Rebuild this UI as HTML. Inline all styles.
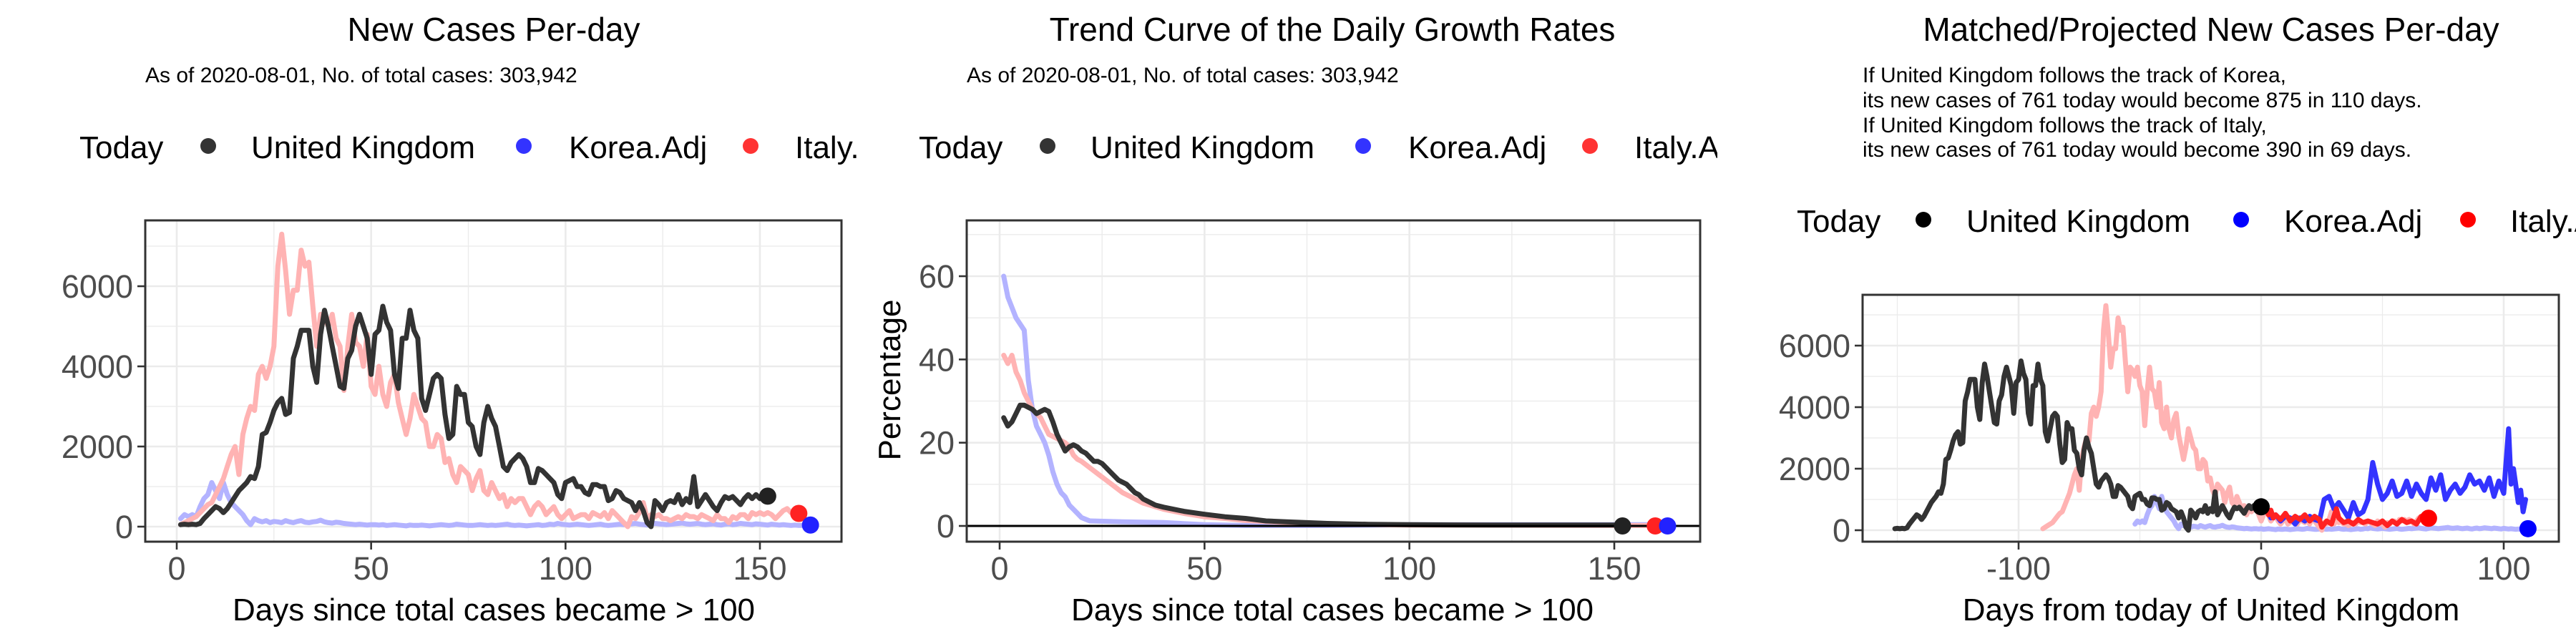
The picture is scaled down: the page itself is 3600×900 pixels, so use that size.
<!DOCTYPE html>
<html><head><meta charset="utf-8"><title>COVID-19 charts: United Kingdom vs Korea and Italy</title>
<style>
html,body{margin:0;padding:0;background:#fff;}
svg{display:block;font-family:"Liberation Sans",Arial,sans-serif;}
</style></head>
<body>
<svg id="chart" width="3600" height="900" viewBox="0 0 3600 900" xmlns="http://www.w3.org/2000/svg">
<defs>
<clipPath id="cp1"><rect x="0" y="0" width="1200" height="900"/></clipPath>
<clipPath id="cp2"><rect x="1200" y="0" width="1200" height="900"/></clipPath>
<clipPath id="cp3"><rect x="2400" y="0" width="1200" height="900"/></clipPath>
<clipPath id="pa1"><rect x="203" y="308" width="973" height="449"/></clipPath>
<clipPath id="pa2"><rect x="1351" y="308" width="1025" height="449"/></clipPath>
<clipPath id="pa3"><rect x="2603" y="412" width="973" height="345"/></clipPath>
</defs>
<rect x="0" y="0" width="3600" height="900" fill="#fff"/>
</svg>
<script>
// ---------- data ----------
const ukCases = [50,60,50,60,50,80,200,300,400,500,450,350,450,600,750,900,1000,1100,1250,1200,
1500,2300,2350,2600,2900,3100,3200,2800,2850,4200,4500,4900,4900,4900,4000,3600,4800,5400,5000,4500,
4000,3500,3450,4200,4400,5000,5300,5000,4700,3800,4800,4900,5500,5100,4900,3800,3450,4700,4700,5400,
4900,4700,3200,2900,3300,3700,3800,3700,2800,2200,2300,3500,3300,3300,2600,2500,2000,1800,2600,3000,
2700,2500,2000,1500,1400,1600,1700,1800,1700,1500,1100,1100,1450,1400,1300,1200,1100,800,700,1100,
1150,1200,1000,1000,850,800,1050,1050,1000,1000,650,700,900,850,700,650,600,400,600,400,
100,0,650,550,400,600,650,600,800,550,700,600,1250,500,650,800,650,500,400,600,
750,700,750,650,550,700,800,700,800,700,761];
const italyCases = [50,100,150,200,250,350,450,550,600,800,1000,1200,1500,1800,2000,1300,2300,2700,3000,2900,
3800,4000,3700,4000,4500,6500,7300,6400,5300,5900,5900,6900,6500,6600,5500,4500,5300,5200,5000,5300,
4700,4500,3400,4500,5300,4600,4500,4000,4800,3500,3300,4000,3300,3000,3600,3800,3100,2700,2300,2700,
3300,3000,2700,2600,2000,2000,2300,2200,1600,1700,1300,1100,1500,1400,1300,900,1200,1400,900,800,
1100,900,700,800,500,700,600,700,700,500,300,500,600,500,300,400,500,300,200,300,
400,200,250,300,300,200,350,300,250,350,200,400,300,200,100,0,250,200,350,600,
200,300,250,300,200,200,150,200,250,200,300,250,250,200,300,250,200,150,300,200,
200,100,250,200,300,300,200,350,300,350,300,350,300,200,300,400,450,350,330,330];
const koreaCases = [200,300,250,300,250,500,700,800,1100,900,700,1100,800,600,500,400,300,150,50,200,
150,120,150,100,130,120,100,150,120,100,130,150,110,100,120,130,160,120,100,90,
110,100,80,70,60,50,60,50,40,50,50,40,50,30,40,50,40,30,20,40,
30,30,40,30,20,30,40,50,40,30,40,60,50,40,30,30,40,50,40,30,
40,30,40,50,60,40,30,40,30,20,30,40,50,30,40,60,50,80,60,50,
40,50,60,50,40,30,40,50,60,40,30,40,50,60,50,60,70,80,60,50,
40,60,80,70,60,50,60,70,80,90,70,60,70,80,60,50,60,70,50,40,
60,70,50,60,80,70,60,50,70,60,50,40,60,50,40,50,40,30,40,30,30,20,10];

const ukGrowthDays = [1,2,3,4,5,6,7,8,9,10,11,12,13,14,15,16,17,18,19,20,21,22,23,24,25,26,27,28,29,30,31,32,33,34,35,36,37,38,40,45,50,55,60,65,70,80,90,100,120,152];
const ukGrowth = [26,24,25,27,29,29,28.5,28,27,27.5,28,27.5,25,22,20,18,19,19.5,19,18,17.5,16.5,15.5,15.5,15,14,13,12,11,10.5,10,9,8,7.5,6.5,6,5.5,5,4.5,3.5,2.8,2.2,1.8,1.2,1,0.6,0.4,0.3,0.2,0.2];
const koreaGrowthDays = [1,2,4,6,7,8,9,10,11,12,13,14,15,16,17,18,19,20,22,30,40,50,60,80,100,163];
const koreaGrowth = [60,55,50,47,35,28,24,22,20,17,13,10,8,7,5,4,3,2,1.2,1.0,0.8,0.3,0.1,0.1,0.3,0.3];
const italyGrowthDays = [1,2,3,4,5,6,7,8,9,10,11,12,13,14,15,16,17,18,19,20,22,24,26,28,30,32,35,40,45,50,55,60,70,80,100,160];
const italyGrowth = [41,39,41,37,35,32,30,28,27,26,24,22,21.5,21,20.5,20,19,17,16,15.5,14,12.5,11,9.5,8,7,5.5,4,3,2.2,1.8,1.3,0.8,0.5,0.2,0.1];

const italyProjDays = [0,1,2,3,4,5,6,8,10,12,14,16,18,20,22,24,25,27,29,31,32,34,36,38,40,42,44,46,48,50,52,54,56,58,60,62,64,66,68,69];
const italyProj = [761,600,700,500,650,400,500,350,550,300,450,350,500,300,450,350,100,300,200,700,400,250,300,200,350,250,300,250,200,300,150,300,200,350,250,300,200,450,300,390];
const koreaProjDays = [0,2,4,6,8,10,12,14,16,18,20,22,24,26,28,30,32,34,36,38,40,42,44,46,48,50,52,54,56,58,60,62,64,66,68,70,72,74,76,78,80,82,84,86,88,90,92,94,96,98,100,102,103,104,106,107,108,109];
const koreaProj = [761,700,400,500,300,450,400,200,400,300,450,350,300,1000,1100,700,900,650,400,900,500,600,1000,2200,1500,1000,1200,1600,1100,1200,1600,1100,1500,1200,1000,1700,1300,1800,1000,1300,1500,1200,1400,1800,1500,1600,1300,1700,1100,1600,1200,3300,1500,2000,900,1300,600,1000];

const p1xTicks = [0,50,100,150];
const p1yTicks = [0,2000,4000,6000];
const p2xTicks = [0,50,100,150];
const p2yTicks = [0,20,40,60];
const p3xTicks = [-100,0,100];
const p3yTicks = [0,2000,4000,6000];

const ukShift = 152, italyShift = 91, koreaShift = 53;
const ukToday = 761, italyToday = 330, koreaToday = 40;
const koreaProjEnd = 50, italyProjEnd = 390;

// ---------- helpers ----------
const NS = "http://www.w3.org/2000/svg";
const svg = document.getElementById('chart');
function el(tag, attrs, parent){
  const e = document.createElementNS(NS, tag);
  for (const k in attrs) e.setAttribute(k, attrs[k]);
  (parent||svg).appendChild(e);
  return e;
}
function lin(d0,d1,r0,r1){ return v => r0 + (v-d0)*(r1-r0)/(d1-d0); }
function pathFrom(xs, ys, sx, sy){
  let d = '';
  for (let i=0;i<xs.length;i++) d += (i?'L':'M') + sx(xs[i]).toFixed(1) + ',' + sy(ys[i]).toFixed(1);
  return d;
}
function seq(n, off){ const a=[]; for(let i=0;i<n;i++) a.push(i+1+off); return a; }

function panel(o){
  const g = el('g', {'clip-path':'url(#'+o.clip+')'});
  
  
  const [L,T,R,B] = o.box;
  o.xMinor.forEach(v=>{ const ln = el('line',{x1:o.sx(v),x2:o.sx(v),y1:T,y2:B,stroke:'#ebebeb','stroke-width':1.3},g);
      });
  o.yMinor.forEach(v=>{ const ln = el('line',{x1:L,x2:R,y1:o.sy(v),y2:o.sy(v),stroke:'#ebebeb','stroke-width':1.3},g);
      });
  o.xTicks.forEach(v=>{ const ln = el('line',{x1:o.sx(v),x2:o.sx(v),y1:T,y2:B,stroke:'#ebebeb','stroke-width':2.6},g);
     
    const tk = el('line',{x1:o.sx(v),x2:o.sx(v),y1:B,y2:B+11,stroke:'#333','stroke-width':2.6},g);
     
    const t = el('text',{x:o.sx(v),y:810,'text-anchor':'middle','font-size':45,fill:'#4d4d4d'},g);
     
    t.textContent = v; });
  o.yTicks.forEach(v=>{ const ln = el('line',{x1:L,x2:R,y1:o.sy(v),y2:o.sy(v),stroke:'#ebebeb','stroke-width':2.6},g);
     
    const tk = el('line',{x1:L-11,x2:L,y1:o.sy(v),y2:o.sy(v),stroke:'#333','stroke-width':2.6},g);
     
    const t = el('text',{x:L-17,y:o.sy(v)+16,'text-anchor':'end','font-size':45,fill:'#4d4d4d'},g);
     
    t.textContent = v; });
  const lg = el('g',{'clip-path':'url(#'+o.plotClip+')'},g);
   
  o.series.forEach(s=>{
    const p = el('path',{d:pathFrom(s.x,s.y,o.sx,o.sy),fill:'none',stroke:s.c,'stroke-width':7,'stroke-linejoin':'round','stroke-linecap':'round'},lg);
    
    
  });
  if (o.zeroLine){ const z = el('line',{x1:L,x2:R,y1:o.sy(0),y2:o.sy(0),stroke:'#000','stroke-width':3},lg);
      }
  o.points.forEach(p=>{
    const c = el('circle',{cx:o.sx(p.x),cy:o.sy(p.y),r:12,fill:p.c},lg);
    
    
  });
  const bx = el('rect',{x:L,y:T,width:R-L,height:B-T,fill:'none',stroke:'#333','stroke-width':3},g);
   
  const tt = el('text',{x:o.titleX,y:57,'text-anchor':'middle','font-size':46,fill:'#000'},g);
   
  tt.textContent = o.title;
  o.sub.forEach((s,i)=>{
    const st = el('text',{x:o.subX,y:o.subY[i],'font-size':30,fill:'#000'},g);
     
    st.textContent = s; });
  const ly = o.legY, ox = o.legX;
  const lt = el('text',{x:ox,y:ly,'font-size':44,fill:'#000'},g);
   
  lt.textContent = 'Today';
  o.legend.forEach(e=>{
    const c = el('circle',{cx:ox+e.dx,cy:ly-17,r:11,fill:e.c},g);
     
    const t = el('text',{x:ox+e.tx,y:ly,'font-size':44,fill:'#000'},g);
     
    t.textContent = e.label; });
  const xl = el('text',{x:o.titleX,y:867,'text-anchor':'middle','font-size':44,fill:'#000'},g);
   
  xl.textContent = o.xTitle;
  if (o.yTitle){
    const yl = el('text',{x:0,y:0,'text-anchor':'middle','font-size':44,fill:'#000',transform:'translate(1258,531) rotate(-90)'},g);
     
    yl.textContent = o.yTitle;
  }
}

const LB = 'rgba(51,51,51,1)', PINK='#ffb3b3', LBLUE='#b3b3ff';
const leg1 = [{dx:180,tx:240,c:'#333',label:'United Kingdom'},{dx:621,tx:684,c:'#3333ff',label:'Korea.Adj'},{dx:938,tx:1000,c:'#ff3333',label:'Italy.Adj'}];
const subLine = 'As of 2020-08-01, No. of total cases: 303,942';

{
  const sx = lin(0,150,247,1062), sy = lin(0,6000,736,400);
  panel({name:'new-cases-panel',clip:'cp1',plotClip:'pa1',box:[203,308,1176,757],sx,sy,
    xTicks:p1xTicks,yTicks:p1yTicks,xMinor:[25,75,125],yMinor:[1000,3000,5000,7000],
    series:[
      {name:'line-korea-adj',x:seq(koreaCases.length,0),y:koreaCases,c:LBLUE},
      {name:'line-italy-adj',x:seq(italyCases.length,0),y:italyCases,c:PINK},
      {name:'line-united-kingdom',x:seq(ukCases.length,0),y:ukCases,c:LB}],
    points:[{name:'today-point-uk',x:152,y:ukToday,c:'#222'},{name:'today-point-italy',x:160,y:italyToday,c:'#ff2222'},{name:'today-point-korea',x:163,y:koreaToday,c:'#2222ff'}],
    title:'New Cases Per-day',titleX:690,sub:[subLine],subX:203,subY:[115],
    legX:111,legY:221,legend:leg1,xTitle:'Days since total cases became > 100'});
}
{
  const sx = lin(0,150,1397,2256), sy = lin(0,60,735,386);
  panel({name:'growth-rate-panel',clip:'cp2',plotClip:'pa2',box:[1351,308,2376,757],sx,sy,
    xTicks:p2xTicks,yTicks:p2yTicks,xMinor:[25,75,125],yMinor:[10,30,50,70],zeroLine:true,
    series:[
      {name:'line-korea-adj',x:koreaGrowthDays,y:koreaGrowth,c:LBLUE},
      {name:'line-italy-adj',x:italyGrowthDays,y:italyGrowth,c:PINK},
      {name:'line-united-kingdom',x:ukGrowthDays,y:ukGrowth,c:LB}],
    points:[{name:'today-point-uk',x:152,y:0,c:'#222'},{name:'today-point-italy',x:160,y:0,c:'#ff2222'},{name:'today-point-korea',x:163,y:0,c:'#2222ff'}],
    title:'Trend Curve of the Daily Growth Rates',titleX:1862,sub:[subLine],subX:1351,subY:[115],
    legX:1284,legY:221,legend:leg1,xTitle:'Days since total cases became > 100',yTitle:'Percentage'});
}
{
  const sx = lin(0,100,3160,3499), sy = lin(0,6000,741,483);
  const leg3 = [{dx:177,tx:237,c:'#000',label:'United Kingdom'},{dx:621,tx:681,c:'#0000ff',label:'Korea.Adj'},{dx:938,tx:997,c:'#ff0000',label:'Italy.Adj'}];
  panel({name:'projected-cases-panel',clip:'cp3',plotClip:'pa3',box:[2603,412,3576,757],sx,sy,
    xTicks:p3xTicks,yTicks:p3yTicks,xMinor:[-150,-50,50],yMinor:[1000,3000,5000,7000],
    series:[
      {name:'line-korea-matched',x:seq(koreaCases.length,-koreaShift),y:koreaCases,c:LBLUE},
      {name:'line-italy-matched',x:seq(italyCases.length,-italyShift),y:italyCases,c:PINK},
      {name:'line-united-kingdom',x:seq(ukCases.length,-ukShift),y:ukCases,c:LB},
      {name:'line-korea-projected',x:koreaProjDays,y:koreaProj,c:'#3333ff'},
      {name:'line-italy-projected',x:italyProjDays,y:italyProj,c:'#ff2222'}],
    points:[{name:'today-point-uk',x:0,y:ukToday,c:'#000'},{name:'projected-point-italy',x:69,y:italyProjEnd,c:'#ff0000'},{name:'projected-point-korea',x:110,y:koreaProjEnd,c:'#0000ff'}],
    title:'Matched/Projected New Cases Per-day',titleX:3090,
    sub:['If United Kingdom follows the track of Korea,','its new cases of 761 today would become 875 in 110 days.','If United Kingdom follows the track of Italy,','its new cases of 761 today would become 390 in 69 days.'],
    subX:2603,subY:[115,150,185,219],
    legX:2511,legY:324,legend:leg3,xTitle:'Days from today of United Kingdom'});
}
</script>
</body></html>
